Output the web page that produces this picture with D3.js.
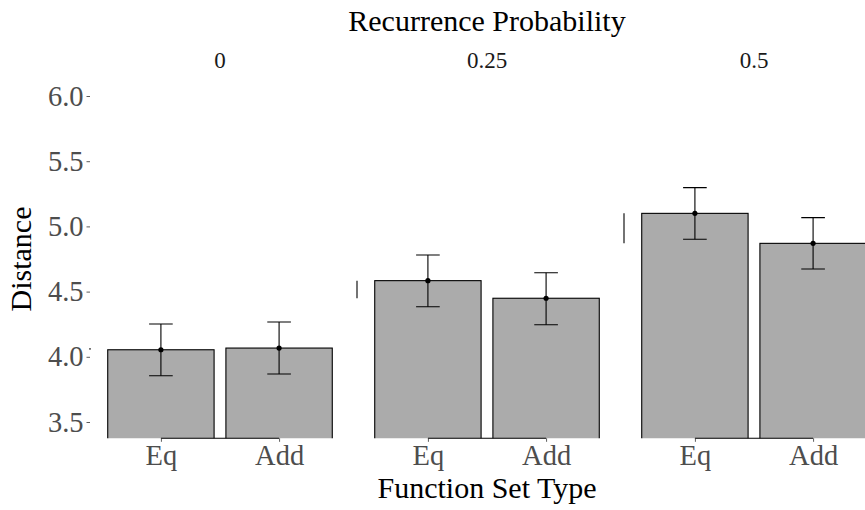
<!DOCTYPE html>
<html>
<head>
<meta charset="utf-8">
<script src="https://cdn.jsdelivr.net/npm/d3@7"></script>
<style>
  html, body { margin: 0; padding: 0; background: #fff; }
  svg text { font-family: "Liberation Serif", "Times New Roman", serif; }
</style>
</head>
<body>
<svg id="chart" width="865" height="510"></svg>
<script>
// Facets (recurrence probability) and categories (function set type)
const facets = ["0", "0.25", "0.5"];
const categories = ["Eq", "Add"];

// Mean distance per facet, in category order
const meanEq  = [4.054, 4.584, 5.100];
const meanAdd = [4.067, 4.449, 4.870];

// Error bar limits
const lowerEq  = [3.855, 4.384, 4.901];
const upperEq  = [4.252, 4.781, 5.297];
const lowerAdd = [3.868, 4.246, 4.673];
const upperAdd = [4.267, 4.645, 5.067];

// Y axis ticks
const yTicks = [3.5, 4.0, 4.5, 5.0, 5.5, 6.0];

const rows = facets.flatMap((f, i) => [
  { facet: f, cat: "Eq",  mean: meanEq[i],  lo: lowerEq[i],  hi: upperEq[i] },
  { facet: f, cat: "Add", mean: meanAdd[i], lo: lowerAdd[i], hi: upperAdd[i] }
]);

const FONT = "Liberation Serif, Times New Roman, serif";
const svg = d3.select("#chart");

const panelLeft = 90, panelW = 260, gap = 7;
const panelTop = 79.7, panelBottom = 438.3;

const fx = d3.scaleBand()
  .domain(facets)
  .range([panelLeft, panelLeft + 3 * panelW + 2 * gap])
  .paddingInner(gap / (panelW + gap))
  .paddingOuter(0);

const y = d3.scaleLinear().domain([3.375, 6.125]).range([panelBottom, panelTop]);

const x = d3.scalePoint().domain(categories).range([0, fx.bandwidth()]).padding(0.6);
const barW = x.step() * 0.9;
const capW = x.step() * 0.2;

const tickColor = "#333333";
const labelColor = "#4D4D4D";
const centerX = fx("0") + (fx("0.5") + fx.bandwidth() - fx("0")) / 2;

// Top title
svg.append("text")
  .attr("x", centerX)
  .attr("y", 31)
  .attr("text-anchor", "middle")
  .attr("font-family", FONT)
  .attr("font-size", 30)
  .attr("fill", "#000")
  .text("Recurrence Probability");

// Y axis on the first panel
const yAxis = d3.axisLeft(y).tickValues(yTicks).tickFormat(d3.format(".1f")).tickSize(3.5).tickPadding(3);
const gy = svg.append("g").attr("transform", `translate(${panelLeft},0)`).call(yAxis);
gy.attr("font-family", FONT);
gy.select(".domain").remove();
gy.selectAll(".tick line").attr("stroke", tickColor).attr("stroke-width", 0.8);
gy.selectAll(".tick text")
  .attr("font-size", 28.5)
  .attr("font-family", FONT)
  .attr("fill", labelColor);

svg.append("text")
  .attr("transform", `translate(31,${(panelTop + panelBottom) / 2}) rotate(-90)`)
  .attr("text-anchor", "middle")
  .attr("font-family", FONT)
  .attr("font-size", 30)
  .attr("fill", "#000")
  .text("Distance");

// Panels
facets.forEach((f, i) => {
  const g = svg.append("g").attr("transform", `translate(${fx(f)},0)`);
  const data = rows.filter(r => r.facet === f);

  const clipId = "clip" + i;
  g.append("clipPath").attr("id", clipId)
    .append("rect").attr("x", 0).attr("y", panelTop).attr("width", fx.bandwidth()).attr("height", panelBottom - panelTop);

  // Facet label
  g.append("text")
    .attr("x", fx.bandwidth() / 2)
    .attr("y", 68)
    .attr("text-anchor", "middle")
    .attr("font-family", FONT)
    .attr("font-size", 23)
    .attr("fill", "#1A1A1A")
    .text(f);

  const body = g.append("g").attr("clip-path", `url(#${clipId})`);

  // Bars
  body.selectAll("rect.bar").data(data).join("rect")
    .attr("class", "bar")
    .attr("x", d => x(d.cat) - barW / 2)
    .attr("y", d => y(d.mean))
    .attr("width", barW)
    .attr("height", d => panelBottom + 2 - y(d.mean))
    .attr("fill", "#ABABAB")
    .attr("stroke", "#000")
    .attr("stroke-width", 1.1);

  // Error bars
  const eb = body.selectAll("g.err").data(data).join("g").attr("class", "err")
    .attr("stroke", "#000").attr("stroke-width", 1.1);
  eb.append("line")
    .attr("x1", d => x(d.cat)).attr("x2", d => x(d.cat))
    .attr("y1", d => y(d.lo)).attr("y2", d => y(d.hi));
  eb.append("line")
    .attr("x1", d => x(d.cat) - capW / 2).attr("x2", d => x(d.cat) + capW / 2)
    .attr("y1", d => y(d.lo)).attr("y2", d => y(d.lo));
  eb.append("line")
    .attr("x1", d => x(d.cat) - capW / 2).attr("x2", d => x(d.cat) + capW / 2)
    .attr("y1", d => y(d.hi)).attr("y2", d => y(d.hi));

  // Mean points
  body.selectAll("circle").data(data).join("circle")
    .attr("cx", d => x(d.cat)).attr("cy", d => y(d.mean))
    .attr("r", 2.6).attr("fill", "#000");

  // Range frame: y extent of the means on the panel's left edge
  const ext = d3.extent(data, d => d.mean);
  g.append("line")
    .attr("x1", 0).attr("x2", 0)
    .attr("y1", y(ext[0])).attr("y2", y(ext[1]))
    .attr("stroke", "#000").attr("stroke-width", 1.1);

  // Range frame: x extent along the bottom
  g.append("line")
    .attr("x1", x("Eq")).attr("x2", x("Add"))
    .attr("y1", panelBottom).attr("y2", panelBottom)
    .attr("stroke", "#000").attr("stroke-width", 1.1);

  // X axis ticks and labels
  const xAxis = d3.axisBottom(x).tickSize(3.5).tickPadding(3);
  const gx = g.append("g").attr("transform", `translate(0,${panelBottom})`).call(xAxis);
  gx.attr("font-family", FONT);
  gx.select(".domain").remove();
  gx.selectAll(".tick line").attr("stroke", tickColor).attr("stroke-width", 0.8);
  gx.selectAll(".tick text")
    .attr("font-size", 28.5)
    .attr("font-family", FONT)
    .attr("fill", labelColor);
});

// X axis title
svg.append("text")
  .attr("x", centerX)
  .attr("y", 498)
  .attr("text-anchor", "middle")
  .attr("font-family", FONT)
  .attr("font-size", 30)
  .attr("fill", "#000")
  .text("Function Set Type");
</script>
</body>
</html>
